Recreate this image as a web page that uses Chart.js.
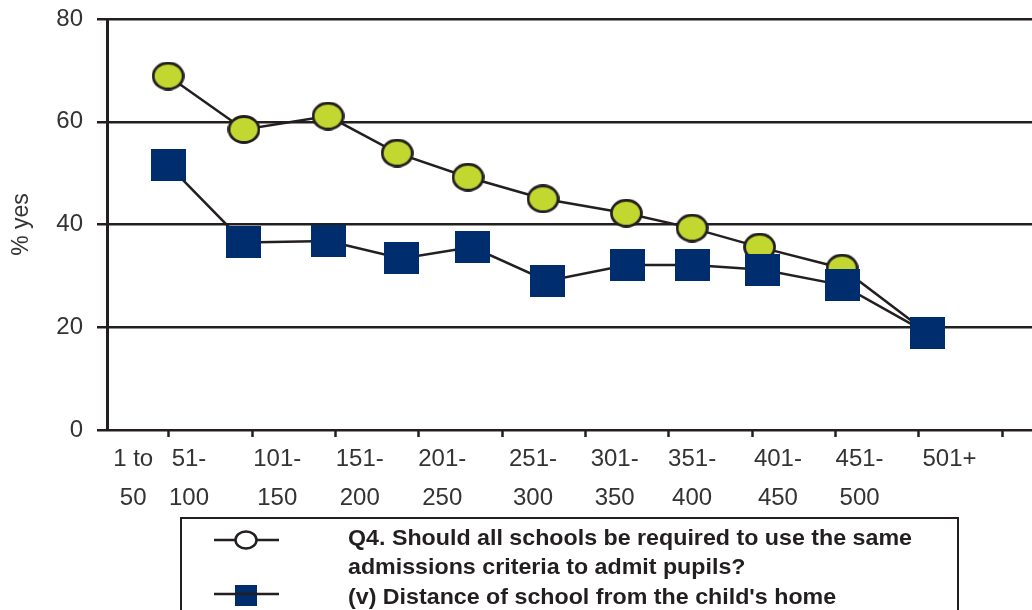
<!DOCTYPE html>
<html>
<head>
<meta charset="utf-8">
<script src="https://cdn.jsdelivr.net/npm/chart.js@4/dist/chart.umd.min.js"></script>
<style>
    html, body { margin: 0; padding: 0; background: #fff; }
    #wrap { width: 1032px; height: 610px; position: relative; }
</style>
</head>
<body>
<div id="wrap"><canvas id="schoolChart" width="1032" height="610"></canvas></div>
<script>
// School size bands (two-line axis labels) and where each label sits on the x scale
const sizeBands = [['1 to', '50'], ['51-', '100'], ['101-', '150'], ['151-', '200'], ['201-', '250'],
    ['251-', '300'], ['301-', '350'], ['351-', '400'], ['401-', '450'], ['451-', '500'], ['501+', '']];
const bandLabelPos = [0.57, 1.24, 2.30, 3.29, 4.28, 5.37, 6.35, 7.28, 8.31, 9.29, 10.37];
const tickMarks = [1, 2, 3, 4, 5, 6, 7, 8, 9, 10, 11];
const yTicks = [0, 20, 40, 60, 80];

// Q4: same admissions criteria for all schools (% yes)
const q4Pos = [0.99, 1.90, 2.91, 3.74, 4.59, 5.49, 6.49, 7.28, 8.09, 9.08, 10.10];
const q4Values = [68.9, 58.5, 61.1, 53.9, 49.2, 45.0, 42.2, 39.3, 35.6, 31.5, 19.0];

// (v) distance of school from the child's home (% yes)
const distPos = [0.99, 1.90, 2.91, 3.79, 4.64, 5.54, 6.50, 7.29, 8.13, 9.08, 10.10];
const distValues = [51.6, 36.5, 36.8, 33.4, 35.6, 29.0, 32.1, 32.1, 31.2, 28.2, 18.9];

const INK = '#231f20';
const LIME = '#c2d72f';
const NAVY = '#002d6d';
const FONT = '"Liberation Sans", Arial, sans-serif';

function ellipseMarker(w, h, fill) {
    const c = document.createElement('canvas');
    c.width = w; c.height = h;
    const g = c.getContext('2d');
    g.beginPath();
    g.ellipse(w / 2, h / 2, w / 2 - 1.5, h / 2 - 1.5, 0, 0, Math.PI * 2);
    g.fillStyle = fill;
    g.fill();
    g.lineWidth = 2.8;
    g.strokeStyle = INK;
    g.stroke();
    return c;
}

function boxMarker(w, h, fill) {
    const c = document.createElement('canvas');
    c.width = w; c.height = h;
    const g = c.getContext('2d');
    g.fillStyle = fill;
    g.fillRect(0, 0, w, h);
    return c;
}

const circleImg = ellipseMarker(33, 29, LIME);
const squareImg = boxMarker(35, 32, NAVY);

// Boxed legend under the axis, with the wrapped question text
const legendBox = {
    id: 'legendBox',
    afterDraw(chart) {
        const ctx = chart.ctx;
        ctx.save();
        ctx.strokeStyle = INK;
        ctx.lineWidth = 2;
        ctx.strokeRect(181, 518, 777, 110);

        // series 1 symbol: line with open circle
        ctx.lineWidth = 2.5;
        ctx.beginPath();
        ctx.moveTo(214, 540); ctx.lineTo(279, 540);
        ctx.stroke();
        ctx.beginPath();
        ctx.ellipse(246, 540, 10.5, 8.5, 0, 0, Math.PI * 2);
        ctx.fillStyle = '#fff';
        ctx.fill();
        ctx.stroke();

        // series 2 symbol: line with filled square
        ctx.fillStyle = NAVY;
        ctx.fillRect(235, 585, 22, 21);
        ctx.beginPath();
        ctx.moveTo(214, 594); ctx.lineTo(279, 594);
        ctx.stroke();

        ctx.fillStyle = INK;
        ctx.font = 'bold 22px "Liberation Sans Narrow", "Liberation Sans", sans-serif';
        ctx.textBaseline = 'middle';
        const lines = [
            ['Q4. Should all schools be required to use the same', 539],
            ['admissions criteria to admit pupils?', 568],
            ["(v) Distance of school from the child's home", 598]
        ];
        const sx = 564 / ctx.measureText(lines[0][0]).width;
        lines.forEach(([txt, y]) => {
            ctx.save();
            ctx.translate(348, y);
            ctx.scale(sx, 1);
            ctx.fillText(txt, 0, 0);
            ctx.restore();
        });
        ctx.restore();
    }
};

const ctx = document.getElementById('schoolChart').getContext('2d');
new Chart(ctx, {
    type: 'line',
    data: {
        datasets: [
            {
                label: "(v) Distance of school from the child's home",
                data: distPos.map((x, i) => ({ x: x, y: distValues[i] })),
                borderColor: INK,
                borderWidth: 2.5,
                pointStyle: squareImg,
                order: 0
            },
            {
                label: 'Q4. Should all schools be required to use the same admissions criteria to admit pupils?',
                data: q4Pos.map((x, i) => ({ x: x, y: q4Values[i] })),
                borderColor: INK,
                borderWidth: 2.5,
                pointStyle: circleImg,
                order: 1
            }
        ]
    },
    options: {
        responsive: false,
        animation: false,
        layout: { autoPadding: false, padding: { top: 19, left: 0, right: 0, bottom: 0 } },
        plugins: {
            legend: { display: false },
            tooltip: { enabled: false }
        },
        scales: {
            x: {
                type: 'linear',
                min: 0.256,
                max: 11.36,
                border: { display: false },
                afterFit: (scale) => {
                    scale.height = 180;
                    scale.paddingLeft = 0;
                    scale.paddingRight = 0;
                },
                afterBuildTicks: (scale) => {
                    const marks = tickMarks.map(v => ({ value: v }));
                    const names = bandLabelPos.map((v, i) => ({ value: v, text: sizeBands[i] }));
                    scale.ticks = marks.concat(names).sort((a, b) => a.value - b.value);
                },
                grid: {
                    drawOnChartArea: false,
                    drawTicks: true,
                    tickLength: 7,
                    tickWidth: 2.5,
                    tickColor: (c) => (c.tick && c.tick.text) ? 'rgba(0,0,0,0)' : INK
                },
                ticks: {
                    autoSkip: false,
                    maxRotation: 0,
                    minRotation: 0,
                    padding: 2,
                    color: '#333',
                    font: { family: FONT, size: 24, lineHeight: 1.66 },
                    callback: function (value, index, ticks) {
                        return ticks[index].text || '';
                    }
                }
            },
            y: {
                min: 0,
                max: 80,
                afterFit: (scale) => {
                    scale.width = 107;
                    scale.paddingTop = 0;
                    scale.paddingBottom = 0;
                },
                afterBuildTicks: (scale) => {
                    scale.ticks = yTicks.map(v => ({ value: v }));
                },
                border: { display: true, color: INK, width: 3 },
                grid: {
                    color: INK,
                    lineWidth: 2.5,
                    tickLength: 10,
                    tickColor: INK
                },
                ticks: {
                    padding: 14,
                    color: '#333',
                    font: { family: FONT, size: 24 }
                },
                title: {
                    display: true,
                    text: '% yes',
                    color: '#333',
                    padding: { top: 8, bottom: 0 },
                    font: { family: FONT, size: 23 }
                }
            }
        }
    },
    plugins: [legendBox]
});
</script>
</body>
</html>
